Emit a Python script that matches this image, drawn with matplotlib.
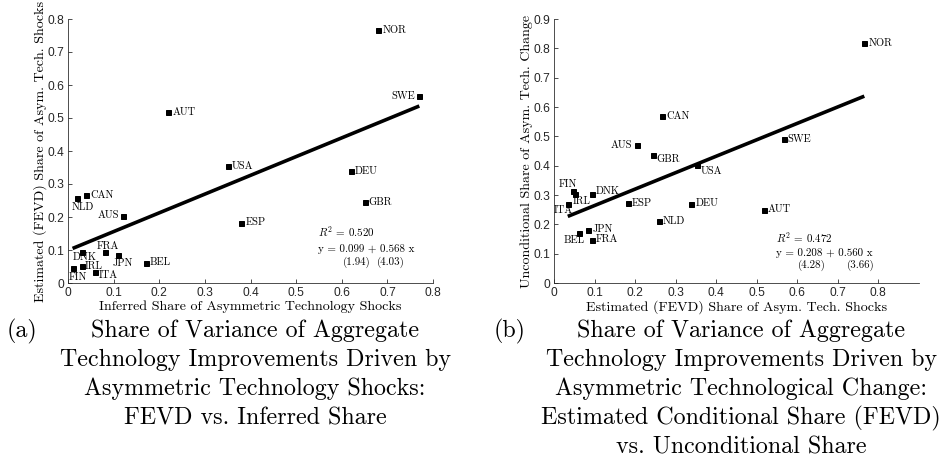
import numpy as np
import matplotlib.pyplot as plt

plt.rcParams['mathtext.fontset'] = 'cm'
plt.rcParams['axes.formatter.use_mathtext'] = False

# Country data
countries = ["AUS", "AUT", "BEL", "CAN", "DEU", "DNK", "ESP", "FIN", "FRA",
             "GBR", "IRL", "ITA", "JPN", "NLD", "NOR", "SWE", "USA"]
inferred_share = [0.12, 0.22, 0.17, 0.04, 0.62, 0.03, 0.38, 0.01, 0.08,
                  0.65, 0.03, 0.06, 0.11, 0.02, 0.68, 0.77, 0.35]
fevd_share = [0.204, 0.518, 0.062, 0.267, 0.339, 0.095, 0.183, 0.046, 0.094,
              0.245, 0.053, 0.034, 0.085, 0.258, 0.766, 0.567, 0.354]
uncond_share = [0.469, 0.250, 0.171, 0.570, 0.271, 0.303, 0.272, 0.314, 0.148,
                0.438, 0.305, 0.271, 0.182, 0.212, 0.819, 0.490, 0.402]

# regression results shown in the panels
fit_a = [0.099, 0.568]
fit_b = [0.208, 0.560]
r2_a = 0.520
r2_b = 0.472
tstat_a = [1.94, 4.03]
tstat_b = [4.28, 3.66]

caption_a = ["Share of Variance of Aggregate",
             "Technology Improvements Driven by",
             "Asymmetric Technology Shocks:",
             "FEVD vs. Inferred Share"]
caption_b = ["Share of Variance of Aggregate",
             "Technology Improvements Driven by",
             "Asymmetric Technological Change:",
             "Estimated Conditional Share (FEVD)",
             "vs. Unconditional Share"]

# label offsets in pixels (dx, dy, alignment)
offs_a = {"AUS": (-4, 0, "right"), "SWE": (-4, 0, "right"),
          "DNK": (-9, -6, "left"), "FIN": (-4, -9, "left"),
          "FRA": (-8, 6, "left"), "IRL": (3, -1, "left"),
          "ITA": (3, -3, "left"), "JPN": (-6, -8, "left"),
          "NLD": (-5, -9, "left")}
offs_b = {"AUS": (-4, 0, "right"), "BEL": (-16, -7, "left"),
          "DNK": (3, 3, "left"), "FIN": (-14, 7, "left"),
          "GBR": (3, -5, "left"), "IRL": (-3, -8, "left"),
          "ITA": (-14, -7, "left"), "USA": (3, -6, "left")}

W, H = 946, 465
fig = plt.figure(figsize=(W / 72, H / 72), dpi=72)

serif = "cmr10"
sans = "Liberation Sans"
axcol = "#262626"


def panel(rect, x, y, xlim, ylim, xticks, yticks, xlabel, ylabel, offs, fit, r2, tst, tx):
    ax = fig.add_axes(rect)
    ax.plot(x, y, "s", color="black", ms=5, zorder=3)
    xs = np.array([min(x), max(x)])
    ax.plot(xs, fit[0] + fit[1] * xs, color="black", lw=3.6, solid_capstyle="butt")
    for c, xi, yi in zip(countries, x, y):
        dx, dy, ha = offs.get(c, (4, 0, "left"))
        ax.annotate(c, (xi, yi), xytext=(dx, dy), textcoords="offset points",
                    ha=ha, va="center", fontsize=10.5, family=serif)
    ax.text(0.548, tx[0], "$R^2$ = %.3f" % r2, fontsize=11, family=serif, va="center")
    ax.text(0.548, tx[1], "y = %.3f + %.3f x" % (fit[0], fit[1]), fontsize=11,
            family=serif, va="center")
    ax.text(0.602, tx[2], "(%.2f)" % tst[0], fontsize=11, family=serif, va="center")
    ax.text(tx[3], tx[2], "(%.2f)" % tst[1], fontsize=11, family=serif, va="center")
    ax.set_xlim(xlim)
    ax.set_ylim(ylim)
    ax.set_xticks(xticks)
    ax.set_yticks(yticks)
    ax.set_xticklabels(["0"] + ["%.1f" % t for t in xticks[1:]], family=sans, fontsize=12)
    ax.set_yticklabels(["0"] + ["%.1f" % t for t in yticks[1:]], family=sans, fontsize=12)
    ax.tick_params(direction="in", length=4, colors=axcol, width=0.8, pad=4)
    for s in ["top", "right"]:
        ax.spines[s].set_visible(False)
    for s in ["left", "bottom"]:
        ax.spines[s].set_color(axcol)
        ax.spines[s].set_linewidth(0.8)
    ax.set_xlabel(xlabel, family=serif, fontsize=14, labelpad=1)
    ax.set_ylabel(ylabel, family=serif, fontsize=14, labelpad=0)
    return ax


panel([68 / W, 1 - 283 / H, 365 / W, 264 / H], inferred_share, fevd_share,
      (0, 0.8), (0, 0.8), np.arange(0, 0.81, 0.1), np.arange(0, 0.81, 0.1),
      "Inferred Share of Asymmetric Technology Shocks",
      "Estimated (FEVD) Share of Asym. Tech. Shocks",
      offs_a, fit_a, r2_a, tstat_a, [0.155, 0.103, 0.064, 0.676])

panel([554 / W, 1 - 283 / H, 364.6 / W, 264 / H], fevd_share, uncond_share,
      (0, 0.9), (0, 0.9), np.arange(0, 0.81, 0.1), np.arange(0, 0.91, 0.1),
      "Estimated (FEVD) Share of Asym. Tech. Shocks",
      "Unconditional Share of Asym. Tech. Change",
      offs_b, fit_b, r2_b, tstat_b, [0.153, 0.102, 0.061, 0.722])

# captions below the panels
cap_size = 24
fig.text(22 / W, 1 - 331 / H, "(a)", family=serif, fontsize=cap_size, ha="center", va="center")
fig.text(510 / W, 1 - 331 / H, "(b)", family=serif, fontsize=cap_size, ha="center", va="center")
for i, line in enumerate(caption_a):
    fig.text(255 / W, 1 - (331 + 29 * i) / H, line, family=serif, fontsize=cap_size,
             ha="center", va="center")
for i, line in enumerate(caption_b):
    fig.text(741 / W, 1 - (331 + 29 * i) / H, line, family=serif, fontsize=cap_size,
             ha="center", va="center")

fig.savefig("out.png", dpi=72)
